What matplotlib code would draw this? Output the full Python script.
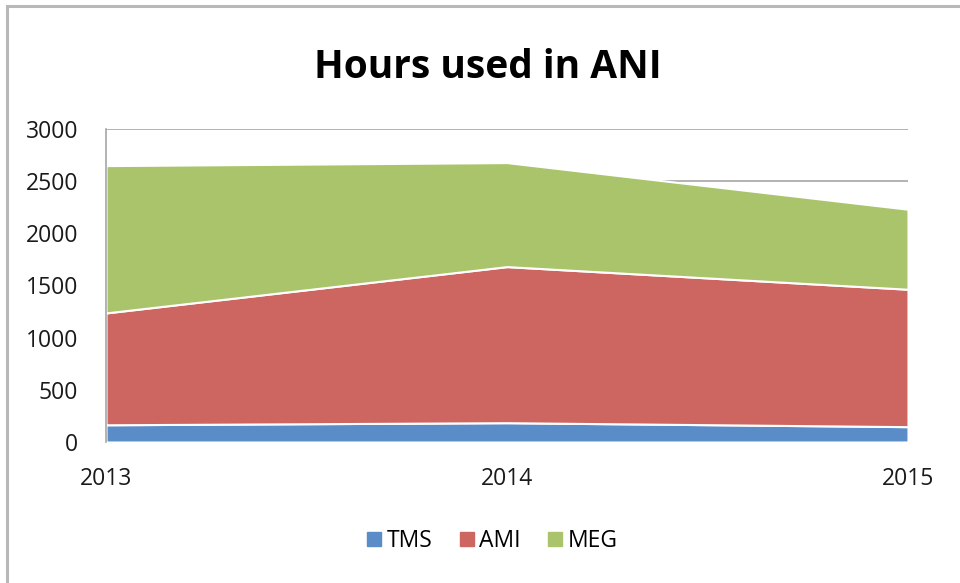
import matplotlib
matplotlib.use("Agg")
import matplotlib.pyplot as plt
from matplotlib.patches import Rectangle
from matplotlib.lines import Line2D

years = [2013, 2014, 2015]
tms = [165, 185, 147]
ami = [1072, 1496, 1317]
meg = [1412, 997, 767]
series_names = ["TMS", "AMI", "MEG"]
colors = ["#5A8DC8", "#CD6560", "#A9C46B"]
yticks = [0, 500, 1000, 1500, 2000, 2500, 3000]

plt.rcParams['font.family'] = ['Open Sans', 'DejaVu Sans']

fig = plt.figure(figsize=(9.6, 5.83), dpi=100)
fig.patch.set_facecolor("white")

# outer border (left & top visible)
fig.patches.append(Rectangle((7/960, -0.1), 1.2, 1 - 6/583 + 0.1, transform=fig.transFigure,
                             fill=False, edgecolor="#B8B8B8", linewidth=2.2))

ax = fig.add_axes([106/960, 1 - 442/583, (908 - 106)/960, (442 - 129)/583])
ax.stackplot(years, tms, ami, meg, colors=colors, labels=series_names,
             edgecolor="white", linewidth=1.5, zorder=2)
ax.set_xlim(years[0], years[-1])
ax.set_ylim(0, 3000)
ax.set_yticks(yticks)
ax.set_xticks(years)
ax.yaxis.grid(True, color="#A6A6A6", linewidth=1.2, zorder=0)
ax.set_axisbelow(True)
for s in ["top", "right", "bottom"]:
    ax.spines[s].set_visible(False)
ax.spines["left"].set_color("#A6A6A6")
ax.spines["left"].set_linewidth(1.2)
ax.tick_params(axis="y", length=0, pad=20, labelsize=16.5, labelcolor="#1A1A1A")
ax.tick_params(axis="x", length=0, pad=18, labelsize=16.5, labelcolor="#1A1A1A")

fig.text(488/960, 1 - 67/583, "Hours used in ANI", ha="center", va="center",
         fontsize=28, fontweight="bold", color="black")

handles = [Line2D([], [], marker="s", linestyle="none", markersize=10,
                  markerfacecolor=c, markeredgecolor=c) for c in colors]
fig.legend(handles, series_names, loc="center", bbox_to_anchor=(490/960, 1 - 541/583),
           ncol=3, frameon=False, fontsize=16.5, handletextpad=0.05, columnspacing=1.0,
           handlelength=1.0)

fig.savefig("out.png", dpi=100, facecolor="white")
